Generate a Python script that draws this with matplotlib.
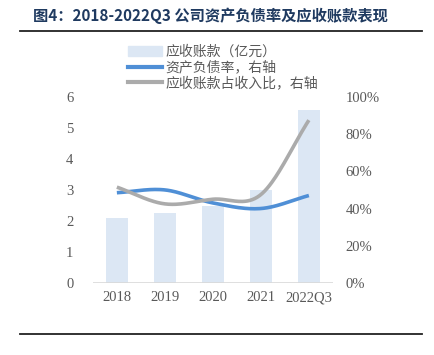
# coding:utf-8
import numpy as np
import matplotlib
matplotlib.use("Agg")
import matplotlib.pyplot as plt
from matplotlib.lines import Line2D
from matplotlib.patches import Patch

plt.rcParams['font.family'] = ['Noto Sans CJK SC', 'DejaVu Sans']

# data
years = ["2018", "2019", "2020", "2021", "2022Q3"]
receivables = [2.08, 2.27, 2.47, 2.99, 5.58]          # 亿元
debt_ratio = [48.5, 50.0, 43.0, 40.0, 47.0]           # %
recv_to_revenue = [51.5, 42.5, 45.0, 47.5, 87.5]      # %

BAR_COLOR = "#DCE7F4"
BLUE = "#4F8FD6"
GRAY = "#ABABAB"
TICK_COLOR = "#595959"
TITLE_COLOR = "#1F3A60"


def smooth(x, y, n=40):
    # catmull-rom curve through points, like excel's smoothed line
    x = np.asarray(x, float)
    y = np.asarray(y, float)
    px = np.concatenate([[2 * x[0] - x[1]], x, [2 * x[-1] - x[-2]]])
    py = np.concatenate([[2 * y[0] - y[1]], y, [2 * y[-1] - y[-2]]])
    xs, ys = [], []
    t = np.linspace(0, 1, n)
    for i in range(1, len(px) - 2):
        for p, out in ((px, xs), (py, ys)):
            p0, p1, p2, p3 = p[i - 1], p[i], p[i + 1], p[i + 2]
            out.append(0.5 * (2 * p1 + (-p0 + p2) * t
                              + (2 * p0 - 5 * p1 + 4 * p2 - p3) * t ** 2
                              + (-p0 + 3 * p1 - 3 * p2 + p3) * t ** 3))
    return np.concatenate(xs), np.concatenate(ys)


fig = plt.figure(figsize=(4.34, 3.55), dpi=100)
ax = fig.add_axes([0.214, 0.203, 0.553, 0.524])
ax2 = ax.twinx()

x = np.arange(len(years))
ax.bar(x, receivables, width=0.47, color=BAR_COLOR, zorder=1)
ax.set_xlim(-0.5, len(years) - 0.5)
ax.set_ylim(0, 6)
ax.set_yticks(range(0, 7))

sx, sy = smooth(x, debt_ratio)
ax2.plot(sx, sy, color=BLUE, lw=2.6, solid_capstyle='butt')
sx, sy = smooth(x, recv_to_revenue)
ax2.plot(sx, sy, color=GRAY, lw=2.6, solid_capstyle='butt')
ax2.set_ylim(0, 100)
ax2.set_yticks(range(0, 101, 20))
ax2.set_yticklabels([f"{v}%" for v in range(0, 101, 20)])

ax.set_xticks(x)
ax.set_xticklabels(years)
for a in (ax, ax2):
    for s in a.spines.values():
        s.set_visible(False)
    a.tick_params(length=0, colors=TICK_COLOR, labelsize=10.5)
    for lab in a.get_xticklabels() + a.get_yticklabels():
        lab.set_family('Liberation Serif')
ax.tick_params(axis='y', pad=14)
ax2.tick_params(axis='y', pad=9)
ax.tick_params(axis='x', pad=6)
ax.axhline(0, color="#D9D9D9", lw=1.2, zorder=2)

handles = [Patch(color=BAR_COLOR),
           Line2D([], [], color=BLUE, lw=3),
           Line2D([], [], color=GRAY, lw=3)]
labels = ["应收账款（亿元）", "资产负债率，右轴", "应收账款占收入比，右轴"]
fig.legend(handles, labels, loc='upper left', bbox_to_anchor=(0.28, 0.893),
           frameon=False, fontsize=10, labelcolor=TICK_COLOR,
           handlelength=2.4, handleheight=0.8, handletextpad=0.25,
           labelspacing=0.12, borderpad=0)

fig.text(0.075, 0.955, "图4：2018-2022Q3 公司资产负债率及应收账款表现",
         fontsize=11, fontweight='bold', color=TITLE_COLOR, va='center')
fig.add_artist(Line2D([0.046, 0.972], [0.912, 0.912], color="#222222", lw=1.3))
fig.add_artist(Line2D([0.046, 0.972], [0.059, 0.059], color="#222222", lw=1.3))

fig.savefig("out.png", dpi=100)
